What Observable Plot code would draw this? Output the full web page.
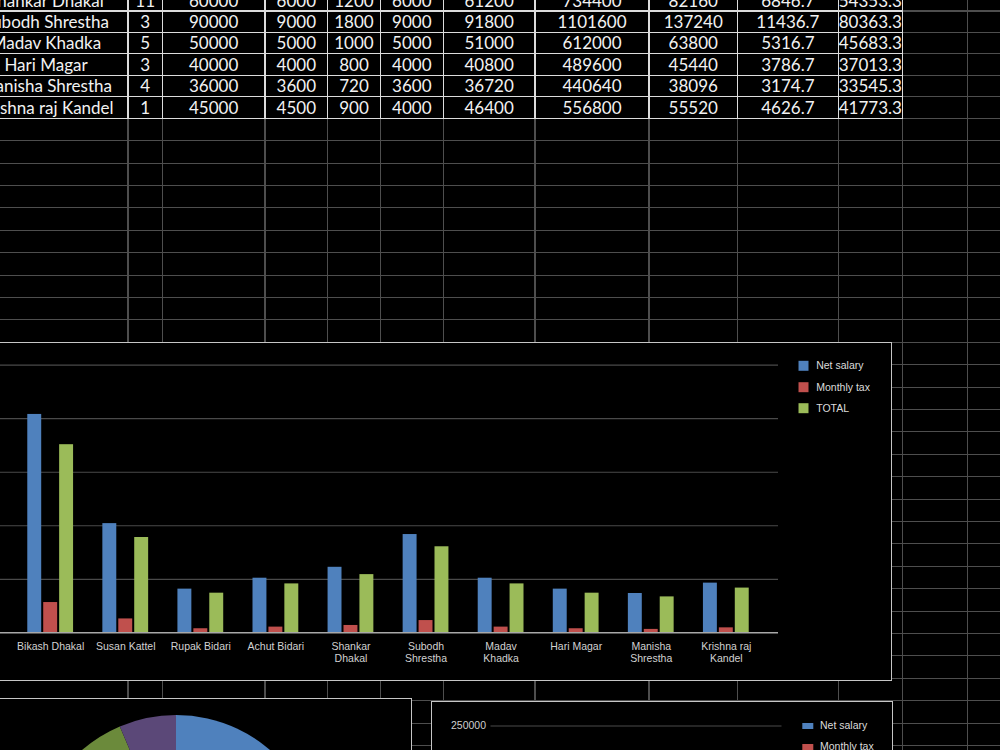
<!DOCTYPE html>
<html>
<head>
<meta charset="utf-8">
<script src="https://cdn.jsdelivr.net/npm/d3@7"></script>
<script src="https://cdn.jsdelivr.net/npm/@observablehq/plot@0.6"></script>
<style>
  html, body { margin: 0; padding: 0; background: #000; width: 1000px; height: 750px; overflow: hidden; }
  #page { position: relative; width: 1000px; height: 750px; overflow: hidden; background: #000; }
  .cell { position: absolute; display: flex; align-items: center; justify-content: center;
          font-family: Lato, "Open Sans", sans-serif; font-size: 17px; color: #f2f2f2; white-space: nowrap; }
  .box { position: absolute; background: #000; border: 1.5px solid #c6c6c6; box-sizing: border-box; }
  svg { position: absolute; }
</style>
</head>
<body>
<div id="page"></div>
<script>
// ---------------- DATA ----------------
// spreadsheet rows (visible part)
const tblName = ["Shankar Dhakal", "Subodh Shrestha", "Madav Khadka", "Hari Magar", "Manisha Shrestha", "Krishna raj Kandel"];
const tblNo = ["11", "3", "5", "3", "4", "1"];
const tblBasic = ["60000", "90000", "50000", "40000", "36000", "45000"];
const tblAllow = ["6000", "9000", "5000", "4000", "3600", "4500"];
const tblExtra = ["1200", "1800", "1000", "800", "720", "900"];
const tblDeduct = ["6000", "9000", "5000", "4000", "3600", "4000"];
const tblTotal = ["61200", "91800", "51000", "40800", "36720", "46400"];
const tblAnnual = ["734400", "1101600", "612000", "489600", "440640", "556800"];
const tblAnnualTax = ["82160", "137240", "63800", "45440", "38096", "55520"];
const tblMonthlyTax = ["6846.7", "11436.7", "5316.7", "3786.7", "3174.7", "4626.7"];
const tblNet = ["54353.3", "80363.3", "45683.3", "37013.3", "33545.3", "41773.3"];

// chart data
const barNames = ["Bikash Dhakal", "Susan Kattel", "Rupak Bidari", "Achut Bidari", "Shankar Dhakal",
                  "Subodh Shrestha", "Madav Khadka", "Hari Magar", "Manisha Shrestha", "Krishna raj Kandel"];
const tickLabels = ["Bikash Dhakal", "Susan Kattel", "Rupak Bidari", "Achut Bidari", "Shankar\nDhakal",
                    "Subodh\nShrestha", "Madav\nKhadka", "Hari Magar", "Manisha\nShrestha", "Krishna raj\nKandel"];
const netSalary = [204000, 102000, 40800, 51000, 61200, 91800, 51000, 40800, 36720, 46400];
const monthlyTax = [28266.7, 12966.7, 3786.7, 5316.7, 6846.7, 11436.7, 5316.7, 3786.7, 3174.7, 4626.7];
const totalPay = [175733.3, 89033.3, 37013.3, 45683.3, 54353.3, 80363.3, 45683.3, 37013.3, 33545.3, 41773.3];
const seriesNames = ["Net salary", "Monthly tax", "TOTAL"];
const seriesColors = ["#4f81bd", "#c0504d", "#9bbb59"];
const yTicks = [0, 50000, 100000, 150000, 200000, 250000];
const pieColors = ["#4f81bd", "#c0504d", "#9bbb59", "#8064a2", "#4bacc6", "#f79646", "#2c4d75", "#772c2a", "#6b8a3b", "#5b4878"];

// ---------------- SPREADSHEET LAYOUT ----------------
const page = document.getElementById("page");
const colEdges = [-36, 128, 162.3, 265, 327.7, 380.3, 443.3, 535, 649, 737.5, 838.3, 902.3];
const extraCols = [967.3];
const rowEdges = [-10.5, 11, 32.3, 53.3, 75.3, 96.7, 118.3];
const rowStep = 22.4;
const gray = "#4e4e4e", white = "#dcdcdc";

function bar(x, y, w, h, c) {
  const d = document.createElement("div");
  d.style.cssText = `position:absolute;left:${x}px;top:${y}px;width:${w}px;height:${h}px;background:${c}`;
  page.appendChild(d);
}
// gray grid
[...colEdges.slice(1), ...extraCols].forEach(x => bar(x - 0.6, 0, 1.2, 750, gray));
const gridRows = rowEdges.slice(1);
for (let y = 118.3 + rowStep; y < 760; y += rowStep) gridRows.push(y);
gridRows.forEach(y => bar(0, y - 0.6, 1000, 1.2, gray));
// white table borders
const tableBottom = rowEdges[rowEdges.length - 1];
colEdges.slice(1).forEach(x => bar(x - 0.8, 0, 1.6, tableBottom + 0.8, white));
rowEdges.slice(1).forEach(y => bar(0, y - 0.8, colEdges[colEdges.length - 1] + 0.8, 1.6, white));
// table text
const tblCols = [tblName, tblNo, tblBasic, tblAllow, tblExtra, tblDeduct, tblTotal, tblAnnual, tblAnnualTax, tblMonthlyTax, tblNet];
tblCols.forEach((col, c) => {
  col.forEach((txt, r) => {
    const d = document.createElement("div");
    d.className = "cell";
    const x0 = colEdges[c], x1 = colEdges[c + 1], y0 = rowEdges[r], y1 = rowEdges[r + 1];
    d.style.left = x0 + "px"; d.style.width = (x1 - x0) + "px";
    d.style.top = y0 + "px"; d.style.height = (y1 - y0) + "px";
    d.textContent = txt;
    page.appendChild(d);
  });
});

// chart boxes
function box(l, t, w, h) {
  const d = document.createElement("div");
  d.className = "box";
  d.style.left = l + "px"; d.style.top = t + "px"; d.style.width = w + "px"; d.style.height = h + "px";
  page.appendChild(d);
}
box(-10, 341.5, 901.5, 339.3);   // main bar chart
box(-10, 698, 422, 120);         // pie chart
box(431, 700.5, 461.5, 120);     // second chart

const font = "'Liberation Sans', Arial, Helvetica, sans-serif";
function place(svg, l, t) { svg.style.left = l + "px"; svg.style.top = t + "px"; page.appendChild(svg); }

// ---------------- MAIN BAR CHART ----------------
const rows = barNames.map((name, i) => ({name, net: netSalary[i], tax: monthlyTax[i], total: totalPay[i]}));
const W = 892, H = 338, mL = 0, mR = 112, mT = 22.7, mB = 47.7, xPad = 0.39, gap = 2;
const step = (W - mL - mR) / (barNames.length + xPad);
const bw = step * (1 - xPad);
const barW = (bw - 2 * gap) / 3;
const legendDy = [0.6, 22, 43];

const main = Plot.plot({
  width: W, height: H, marginLeft: mL, marginRight: mR, marginTop: mT, marginBottom: mB,
  style: {background: "transparent", color: "#d2d2d2", fontFamily: font, fontSize: "10.5px"},
  x: {type: "band", domain: barNames, padding: xPad, round: false},
  y: {domain: [0, 250000], axis: null},
  marks: [
    Plot.ruleY(yTicks.filter(t => t > 0), {stroke: "#4a4a4a", strokeWidth: 1.2}),
    Plot.barY(rows, {x: "name", y: "net", fill: seriesColors[0], insetRight: bw - barW}),
    Plot.barY(rows, {x: "name", y: "tax", fill: seriesColors[1], insetLeft: barW + gap, insetRight: barW + gap}),
    Plot.barY(rows, {x: "name", y: "total", fill: seriesColors[2], insetLeft: bw - barW}),
    Plot.ruleY([0], {stroke: "#a8a8a8", strokeWidth: 1.5}),
    Plot.axisX({tickSize: 0, tickPadding: 8, lineHeight: 1.18, fontSize: 10.5, fill: "#d2d2d2", label: null,
                tickFormat: d => tickLabels[barNames.indexOf(d)]}),
    ...seriesNames.flatMap((s, i) => [
      Plot.dot([s], {frameAnchor: "top-right", dx: 25, dy: legendDy[i], symbol: "square", r: 5.64, fill: seriesColors[i]}),
      Plot.text([s], {frameAnchor: "top-right", dx: 37.7, dy: legendDy[i], text: d => d, textAnchor: "start",
                      lineAnchor: "middle", fill: "#dcdcdc", fontSize: 10.5})
    ])
  ]
});
place(main, -2, 342);

// ---------------- PIE (partially visible) ----------------
const pieScale = Plot.scale({color: {type: "ordinal", domain: barNames, range: pieColors}});
const pie = Plot.plot({
  width: 411, height: 60, margin: 0,
  style: {background: "transparent"},
  marks: [
    () => {
      const g = d3.create("svg:g").attr("transform", "translate(176,159.7)");
      const arcs = d3.pie().sort(null)(netSalary);
      g.selectAll("path").data(arcs).join("path")
        .attr("d", d3.arc().innerRadius(0).outerRadius(143.7))
        .attr("fill", d => pieScale.apply(barNames[d.index]));
      return g.node();
    }
  ]
});
place(pie, 0, 699);

// ---------------- SECOND CHART (top part visible) ----------------
const wideRect = {draw(ctx) { ctx.moveTo(-5.5, -3); ctx.lineTo(5.5, -3); ctx.lineTo(5.5, 3); ctx.lineTo(-5.5, 3); ctx.closePath(); }};
const W2 = 459, H2 = 300, mT2 = 23.5, mL2 = 57.5, mR2 = 110.5, mB2 = 26.5;
const step2 = (W2 - mL2 - mR2) / (barNames.length + xPad);
const bw2 = step2 * (1 - xPad);
const barW2 = (bw2 - 2 * gap) / 3;
const second = Plot.plot({
  width: W2, height: H2, marginLeft: mL2, marginRight: mR2, marginTop: mT2, marginBottom: mB2,
  style: {background: "transparent", color: "#cfcfcf", fontFamily: font, fontSize: "10.5px"},
  x: {type: "band", domain: barNames, padding: xPad, round: false, axis: null},
  y: {domain: [0, 250000]},
  marks: [
    Plot.ruleY(yTicks.filter(t => t > 0), {stroke: "#4a4a4a", strokeWidth: 1.2}),
    Plot.barY(rows, {x: "name", y: "net", fill: seriesColors[0], insetRight: bw2 - barW2}),
    Plot.barY(rows, {x: "name", y: "tax", fill: seriesColors[1], insetLeft: barW2 + gap, insetRight: barW2 + gap}),
    Plot.barY(rows, {x: "name", y: "total", fill: seriesColors[2], insetLeft: bw2 - barW2}),
    Plot.axisY({ticks: yTicks, tickSize: 0, tickPadding: 5, tickFormat: d3.format("d"), fontSize: 10.5,
                fill: "#cfcfcf", label: null}),
    ...seriesNames.flatMap((s, i) => [
      Plot.dot([s], {frameAnchor: "top-right", dx: 25.8, dy: i * 21, symbol: wideRect, fill: seriesColors[i]}),
      Plot.text([s], {frameAnchor: "top-right", dx: 38, dy: i * 21, text: d => d, textAnchor: "start",
                      lineAnchor: "middle", fill: "#dcdcdc", fontSize: 10.5})
    ])
  ]
});
place(second, 432.5, 701.5);
</script>
</body>
</html>
